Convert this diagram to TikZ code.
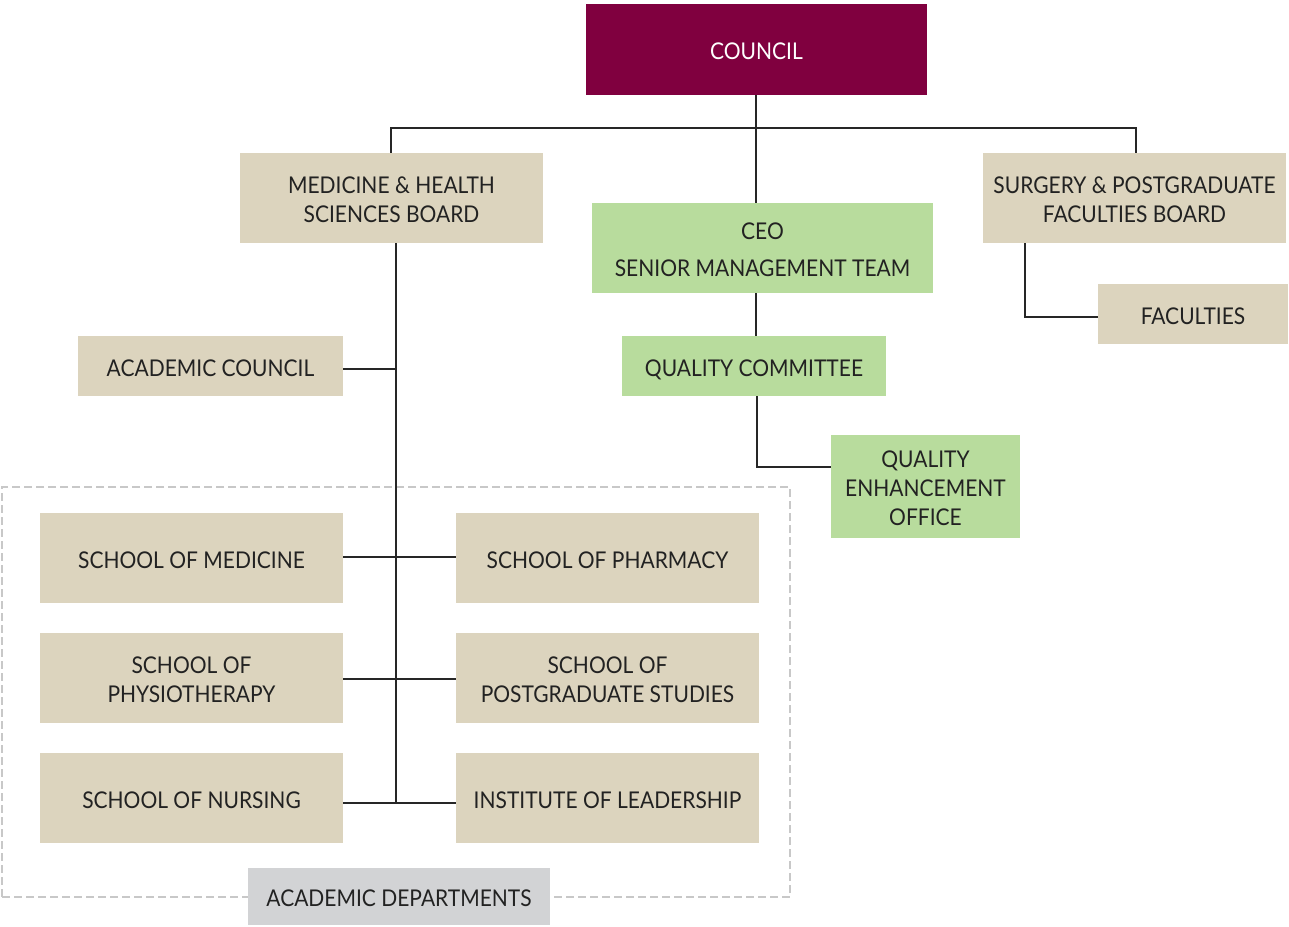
\documentclass[tikz,border=0pt]{standalone}
\usepackage{fontspec}
\setmainfont{Lato}[FakeStretch=0.91]
\definecolor{maroon}{HTML}{80003F}
\definecolor{beige}{HTML}{DCD4BE}
\definecolor{leaf}{HTML}{B8DC9D}
\definecolor{greybox}{HTML}{D2D3D5}
\definecolor{frameg}{HTML}{C8C8C8}
\definecolor{ink}{HTML}{222222}
\newcommand\tx[1]{\raisebox{0pt}[\dimexpr\height+3.2pt\relax][\dimexpr\depth-3.2pt\relax]{\begin{tabular}{@{}c@{}}#1\end{tabular}}}
\tikzset{
  sz/.style 2 args={minimum width=#1*0.75pt, minimum height=#2*0.75pt},
  boxbase/.style={inner sep=0pt, outer sep=0pt, align=center, font=\fontsize{17.3}{21.75}\selectfont, text=ink},
  tan/.style={boxbase, fill=beige},
  grn/.style={boxbase, fill=leaf},
  mar/.style={boxbase, fill=maroon, text=white},
  gry/.style={boxbase, fill=greybox},
  link/.style={draw=black!85, line width=0.8pt},
  dframe/.style={draw=frameg, line width=1.5pt, dash pattern=on 6pt off 3pt, inner sep=0pt, outer sep=0pt}
}
\begin{document}
\begin{tikzpicture}[x=0.75pt, y=-0.75pt]
\useasboundingbox (0,0) rectangle (1289,926);
% dashed frame
\node[dframe, sz={788}{410}] (frame) at (396,692) {};
% nodes
\node[mar, sz={341}{91}] (council) at (756.5,49.5) {\tx{COUNCIL}};
\node[tan, sz={303}{90}] (medboard) at (391.5,198) {\tx{MEDICINE \& HEALTH\\SCIENCES BOARD}};
\node[grn, sz={341}{90}] (ceo) at (762.5,248) {\tx{CEO\\[6pt]SENIOR MANAGEMENT TEAM}};
\node[tan, sz={303}{90}] (surgboard) at (1134.5,198) {\tx{SURGERY \& POSTGRADUATE\\FACULTIES BOARD}};
\node[tan, sz={190}{60}] (fac) at (1193,314) {\tx{FACULTIES}};
\node[tan, sz={265}{60}] (acad) at (210.5,366) {\tx{ACADEMIC COUNCIL}};
\node[grn, sz={264}{60}] (qc) at (754,366) {\tx{QUALITY COMMITTEE}};
\node[grn, sz={189}{103}] (qeo) at (925.5,486.5) {\tx{QUALITY\\ENHANCEMENT\\OFFICE}};
\node[tan, sz={303}{90}] (smed) at (191.5,558) {\tx{SCHOOL OF MEDICINE}};
\node[tan, sz={303}{90}] (spharm) at (607.5,558) {\tx{SCHOOL OF PHARMACY}};
\node[tan, sz={303}{90}] (sphys) at (191.5,678) {\tx{SCHOOL OF\\PHYSIOTHERAPY}};
\node[tan, sz={303}{90}] (spost) at (607.5,678) {\tx{SCHOOL OF\\POSTGRADUATE STUDIES}};
\node[tan, sz={303}{90}] (snurs) at (191.5,798) {\tx{SCHOOL OF NURSING}};
\node[tan, sz={303}{90}] (inst) at (607.5,798) {\tx{INSTITUTE OF LEADERSHIP}};
\node[gry, sz={302}{57}] (adept) at (399,896.5) {\tx{ACADEMIC DEPARTMENTS}};
% helper coordinates
\coordinate (bus) at (756,128);
\coordinate (sp) at (396,803);
\coordinate (sx) at (1025,317);
\coordinate (qx) at (757,467);
\coordinate (r1) at (0,557);
\coordinate (r2) at (0,679);
\coordinate (r0) at (0,369);
% connectors
\draw[link] (council.south -| bus) -- (ceo.north -| bus);
\draw[link] (bus) -| ([xshift=-0.5*0.75pt]medboard.north);
\draw[link] (bus) -| ([xshift=1.5*0.75pt]surgboard.north);
\draw[link] (medboard.south -| sp) -- (sp);
\draw[link] (acad.east |- r0) -- (sp |- r0);
\draw[link] (smed.east |- r1) -- (spharm.west |- r1);
\draw[link] (sphys.east |- r2) -- (spost.west |- r2);
\draw[link] (snurs.east |- sp) -- (inst.west |- sp);
\draw[link] (surgboard.south -| sx) -- (sx) -- (sx -| fac.west);
\draw[link] (ceo.south -| bus) -- (qc.north -| bus);
\draw[link] (qc.south -| qx) -- (qx) -- (qx -| qeo.west);
\end{tikzpicture}
\end{document}
